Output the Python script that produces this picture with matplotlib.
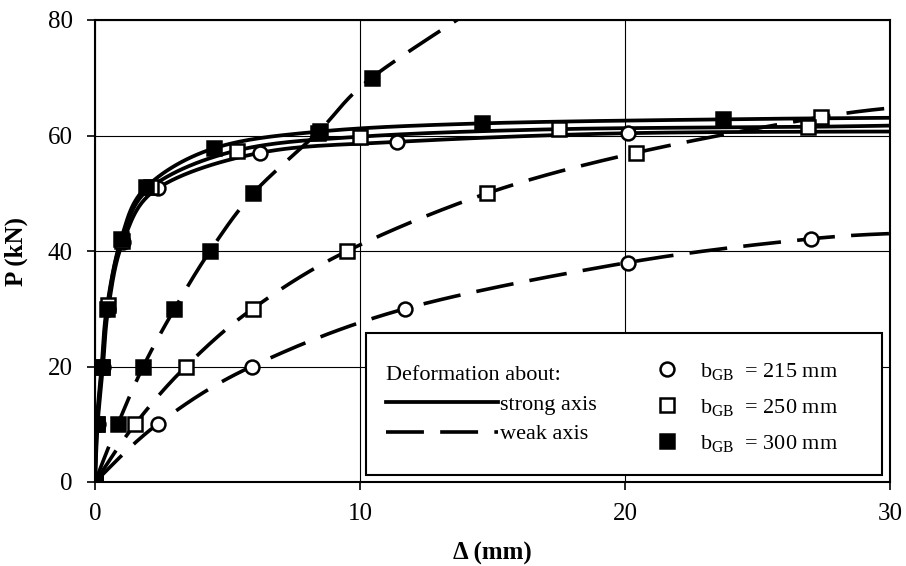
import numpy as np
import matplotlib
matplotlib.use("Agg")
import matplotlib.pyplot as plt
from matplotlib.lines import Line2D
from matplotlib.patches import Rectangle

plt.rcParams['font.family'] = ['Liberation Serif', 'DejaVu Serif']
plt.rcParams['mathtext.fontset'] = 'custom'
plt.rcParams['mathtext.rm'] = 'Liberation Serif'

# load-deflection data (delta in mm, P in kN)
strong_215_x = [0, 0.1, 0.3, 0.5, 1.05, 2.38, 6.23, 11.4, 20.1, 31.0]
strong_215_y = [0, 10, 20, 30, 41.5, 50.9, 57.0, 58.9, 60.4, 60.7]
strong_250_x = [0, 0.08, 0.27, 0.48, 1.0, 2.1, 5.35, 10.0, 17.5, 26.9, 31.0]
strong_250_y = [0, 10, 20, 30.6, 41.8, 51, 57.4, 59.8, 61.1, 61.5, 61.8]
strong_300_x = [0, 0.06, 0.25, 0.44, 0.98, 1.92, 4.5, 8.5, 14.6, 23.7, 31.0]
strong_300_y = [0, 10, 20, 30, 42, 51, 57.8, 60.7, 62.1, 62.8, 63.1]

weak_215_x = [0, 2.36, 5.91, 11.7, 20.1, 27.0, 31.0]
weak_215_y = [0, 10, 20, 30, 38, 42.1, 43.2]
weak_250_x = [0, 1.51, 3.43, 5.95, 9.52, 14.8, 20.4, 27.4, 31.0]
weak_250_y = [0, 10, 20, 30, 40, 50, 57, 63.2, 65.2]
weak_300_x = [0, 0.86, 1.82, 2.99, 4.34, 5.97, 8.4, 10.44, 15.0]
weak_300_y = [0, 10, 20, 29.9, 40, 50, 60.5, 70, 84]

widths = ["215", "250", "300"]
x_ticks = [0, 10, 20, 30]
y_ticks = [0, 20, 40, 60, 80]


def smooth(x, y, n=30):
    # excel-style smoothed line (catmull-rom as bezier)
    p = np.column_stack([x, y]).astype(float)
    p = np.vstack([p[0], p, p[-1]])
    t = np.linspace(0, 1, n)[:, None]
    segs = []
    for i in range(1, len(p) - 2):
        p0, p1, p2, p3 = p[i - 1], p[i], p[i + 1], p[i + 2]
        b1 = p1 + (p2 - p0) / 6
        b2 = p2 - (p3 - p1) / 6
        segs.append((1 - t)**3 * p1 + 3 * (1 - t)**2 * t * b1 + 3 * (1 - t) * t**2 * b2 + t**3 * p2)
    s = np.vstack(segs)
    return s[:, 0], s[:, 1]


marker_styles = {
    "215": dict(marker='o', markerfacecolor='white'),
    "250": dict(marker='s', markerfacecolor='white'),
    "300": dict(marker='s', markerfacecolor='black'),
}
dash = (0, (10.5, 4.5))
ms = 10
mew = 1.8

fig = plt.figure(figsize=(9.06, 5.66), dpi=100)
ax = fig.add_axes([95 / 906, 84 / 566, 795 / 906, 462 / 566])

weak = {"215": (weak_215_x, weak_215_y), "250": (weak_250_x, weak_250_y), "300": (weak_300_x, weak_300_y)}
strong = {"215": (strong_215_x, strong_215_y), "250": (strong_250_x, strong_250_y), "300": (strong_300_x, strong_300_y)}

for w in widths:
    x, y = weak[w]
    sx, sy = smooth(x, y)
    ax.plot(sx, sy, color='black', lw=2.6, linestyle=dash, zorder=3)
for w in widths:
    x, y = strong[w]
    sx, sy = smooth(x, y)
    ax.plot(sx, sy, color='black', lw=2.7, zorder=3)

for w in widths:
    for d in (weak, strong):
        x, y = d[w]
        ax.plot(x, y, linestyle='none', markersize=ms, markeredgewidth=mew,
                markeredgecolor='black', zorder=4, **marker_styles[w])

ax.set_xlim(0, 30)
ax.set_ylim(0, 80)
ax.set_xticks(x_ticks)
ax.set_yticks(y_ticks)
ax.grid(True, color='black', lw=0.8)
ax.set_axisbelow(True)
for s in ax.spines.values():
    s.set_linewidth(1.5)
ax.tick_params(direction='out', length=6, width=1.2, labelsize=18)
ax.tick_params(axis='x', pad=9)
ax.tick_params(axis='y', pad=10)

ax.set_xlabel('Δ (mm)', fontsize=18, fontweight='bold', labelpad=12)
ax.set_ylabel('P (kN)', fontsize=18, fontweight='bold', labelpad=14)

# legend box
box = Rectangle((0.341, 0.015), 0.649, 0.3075, transform=ax.transAxes,
                facecolor='white', edgecolor='black', lw=1.5, zorder=5)
ax.add_patch(box)

line_handles = [Line2D([], [], color='black', lw=2.7),
                Line2D([], [], color='black', lw=2.6, linestyle=dash)]
leg1 = ax.legend(line_handles, ['strong axis', 'weak axis'], title='Deformation about:',
                 loc='upper left', bbox_to_anchor=(0.366, 0.25), frameon=False,
                 fontsize=16, title_fontsize=16, alignment='left',
                 handlelength=5.05, handletextpad=0.1, labelspacing=0.4,
                 borderpad=0, borderaxespad=0)
leg1.set_zorder(6)
ax.add_artist(leg1)

marker_handles = [Line2D([], [], linestyle='none', markersize=ms, markeredgewidth=mew,
                         markeredgecolor='black', **marker_styles[w]) for w in widths]
marker_labels = [r'$\mathrm{b}_{\mathrm{GB}}$  = ' + w + ' mm' for w in widths]
leg2 = ax.legend(marker_handles, marker_labels, loc='upper left', bbox_to_anchor=(0.705, 0.262),
                 frameon=False, fontsize=16, handlelength=1.0, handletextpad=1.0,
                 labelspacing=0.65, borderpad=0, borderaxespad=0)
leg2.set_zorder(6)

fig.savefig('out.png', dpi=100)
